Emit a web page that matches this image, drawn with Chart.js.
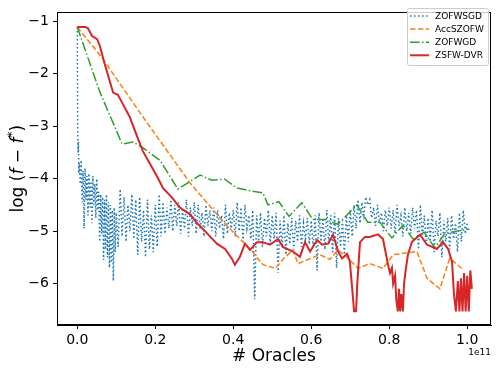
<!DOCTYPE html>
<html>
<head>
<meta charset="utf-8">
<script src="https://cdn.jsdelivr.net/npm/chart.js@4/dist/chart.umd.min.js"></script>
<style>
  html, body { margin: 0; padding: 0; background: #fff; }
  canvas { display: block; }
</style>
</head>
<body>
<canvas id="chart" width="497" height="372"></canvas>
<script>
// values (x in units of 1e11 oracles, y = log(f - f*))
var xTicks = [0.0, 0.2, 0.4, 0.6, 0.8, 1.0];
var yTicks = [-6, -5, -4, -3, -2, -1];
var seriesNames = ["ZOFWSGD", "AccSZOFW", "ZOFWGD", "ZSFW-DVR"];

var blueX = [0, 0.001, 0.002, 0.003, 0.004,
  0.005, 0.0075, 0.01, 0.0125, 0.015, 0.0175, 0.02, 0.0225, 0.025, 0.0275,
  0.03, 0.0325, 0.035, 0.0375, 0.04, 0.0425, 0.045, 0.0475, 0.05,
  0.0525, 0.055, 0.0575, 0.06, 0.0625, 0.065, 0.0675, 0.07, 0.0725, 0.075,
  0.0775, 0.08, 0.0825, 0.085, 0.0875, 0.09, 0.0925, 0.095, 0.0975, 0.1,
  0.105, 0.11, 0.115, 0.12, 0.125, 0.13, 0.135, 0.14, 0.145, 0.15,
  0.155, 0.16, 0.165, 0.17, 0.175, 0.18, 0.185, 0.19, 0.195, 0.2,
  0.205, 0.21, 0.215, 0.22, 0.225, 0.23, 0.235, 0.24, 0.245, 0.25,
  0.255, 0.26, 0.265, 0.27, 0.275, 0.28, 0.285, 0.29, 0.295, 0.3,
  0.305, 0.31, 0.315, 0.32, 0.325, 0.33, 0.335, 0.34, 0.345, 0.35,
  0.355, 0.36, 0.365, 0.37, 0.375, 0.38, 0.385, 0.39, 0.395, 0.4,
  0.405, 0.41, 0.415, 0.42, 0.425, 0.43, 0.435, 0.44, 0.445, 0.45,
  0.455, 0.46, 0.465, 0.47, 0.475, 0.48, 0.485, 0.49, 0.495, 0.5,
  0.505, 0.51, 0.515, 0.52, 0.525, 0.53, 0.535, 0.54, 0.545, 0.55,
  0.555, 0.56, 0.565, 0.57, 0.575, 0.58, 0.585, 0.59, 0.595, 0.6,
  0.605, 0.61, 0.615, 0.62, 0.625, 0.63, 0.635, 0.64, 0.645, 0.65,
  0.655, 0.66, 0.665, 0.67, 0.675, 0.68, 0.685, 0.69, 0.695, 0.7,
  0.705, 0.71, 0.715, 0.72, 0.725, 0.73, 0.735, 0.74, 0.745, 0.75,
  0.755, 0.76, 0.765, 0.77, 0.775, 0.78, 0.785, 0.79, 0.795, 0.8,
  0.805, 0.81, 0.815, 0.82, 0.825, 0.83, 0.835, 0.84, 0.845, 0.85,
  0.855, 0.86, 0.865, 0.87, 0.875, 0.88, 0.885, 0.89, 0.895, 0.9,
  0.905, 0.91, 0.915, 0.92, 0.925, 0.93, 0.935, 0.94, 0.945, 0.95,
  0.955, 0.96, 0.965, 0.97, 0.975, 0.98, 0.985, 0.99, 0.995, 1.0,
  1.005];
var blueY = [-1.11, -3.0, -3.5, -3.3, -3.9,
  -3.70, -4.10, -3.65, -4.45, -3.85, -4.95, -3.80, -4.40, -3.95, -4.70,
  -3.90, -4.55, -4.05, -4.85, -3.95, -4.50, -4.10, -4.75, -4.00,
  -4.60, -4.25, -5.20, -4.30, -5.05, -4.35, -5.55, -4.40, -5.35, -4.30,
  -5.50, -4.45, -5.70, -4.50, -5.60, -4.60, -5.95, -4.55, -5.40, -4.65,
  -5.30, -4.20, -5.10, -4.35, -5.20, -4.50, -5.00, -4.30, -5.15, -4.40,
  -5.45, -4.35, -5.20, -4.60, -5.50, -4.40, -5.35, -4.70, -5.40, -4.50,
  -5.30, -4.30, -5.10, -4.45, -5.05, -4.55, -4.95, -4.40, -5.00, -4.50,
  -4.90, -4.45, -5.05, -4.60, -4.95, -4.40, -5.10, -4.55, -4.90, -4.45,
  -5.05, -4.50, -4.95, -4.65, -5.10, -4.50, -4.90, -4.60, -5.00, -4.55,
  -5.10, -4.60, -4.95, -4.70, -5.15, -4.50, -5.05, -4.65, -4.95, -4.60,
  -5.10, -4.45, -5.00, -4.55, -5.20, -4.50, -4.95, -4.70, -5.15, -4.60,
  -6.30, -4.70, -5.20, -4.65, -5.30, -4.75, -5.10, -4.60, -5.25, -4.70,
  -5.15, -4.65, -5.80, -4.80, -5.30, -4.70, -5.45, -4.85, -5.25, -4.75,
  -5.35, -4.80, -5.20, -4.70, -5.30, -4.85, -5.15, -4.75, -5.25, -4.80,
  -5.30, -4.70, -5.75, -4.65, -5.20, -4.75, -5.35, -4.60, -5.25, -4.70,
  -5.40, -4.65, -5.70, -4.75, -5.30, -4.80, -5.45, -4.70, -5.20, -4.60,
  -5.10, -4.50, -4.95, -4.40, -4.85, -4.45, -4.70, -4.35, -4.50, -4.40,
  -4.75, -4.55, -4.90, -4.50, -4.85, -4.65, -5.00, -4.60, -4.90, -4.55,
  -4.95, -4.60, -5.05, -4.50, -4.90, -4.70, -5.10, -4.55, -5.00, -4.65,
  -5.05, -4.55, -4.95, -4.60, -5.35, -4.50, -5.10, -4.70, -5.25, -4.75,
  -5.20, -4.60, -5.40, -4.80, -5.10, -4.65, -5.50, -4.80, -5.20, -4.75,
  -5.35, -4.70, -5.15, -4.85, -5.40, -4.65, -5.20, -4.60, -5.05, -4.85];

var orangeX = [0, 0.065, 0.169, 0.289, 0.38, 0.443, 0.476, 0.508, 0.527, 0.553, 0.566,
  0.622, 0.648, 0.668, 0.691, 0.72, 0.75, 0.784, 0.81, 0.871, 0.897, 0.93, 0.955, 0.989];
var orangeY = [-1.11, -1.71, -2.83, -4.08, -4.87, -5.34, -5.64, -5.71, -5.54, -5.36, -5.62,
  -5.45, -5.54, -5.36, -5.49, -5.71, -5.62, -5.71, -5.45, -5.39, -5.90, -6.10, -5.52, -5.73];

var greenX = [0, 0.058, 0.115, 0.143, 0.168, 0.212, 0.258, 0.315, 0.345, 0.378, 0.41,
  0.443, 0.476, 0.489, 0.517, 0.543, 0.576, 0.604, 0.635, 0.668, 0.717, 0.745, 0.776,
  0.807, 0.835, 0.861, 0.889, 0.917, 0.943, 1.006];
var greenY = [-1.11, -2.35, -3.34, -3.30, -3.41, -3.65, -4.20, -3.93, -4.03, -4.01, -4.18,
  -4.23, -4.27, -4.50, -4.44, -4.72, -4.46, -4.78, -4.78, -4.87, -4.50, -4.83, -4.83,
  -5.13, -4.89, -5.15, -5.02, -5.32, -5.04, -4.96];

var redX = [0, 0.02, 0.027, 0.038, 0.051, 0.058, 0.068, 0.084, 0.092, 0.104, 0.115,
  0.127, 0.135, 0.148, 0.161, 0.168, 0.186, 0.204, 0.22, 0.243, 0.263, 0.289, 0.31,
  0.33, 0.358, 0.379, 0.396, 0.404, 0.417, 0.43, 0.443, 0.461, 0.476, 0.494, 0.515,
  0.527, 0.553, 0.571, 0.584, 0.597, 0.615, 0.628, 0.643, 0.656, 0.669, 0.679, 0.692,
  0.699, 0.704, 0.71, 0.715, 0.718, 0.725, 0.738, 0.75, 0.771, 0.784, 0.797, 0.802,
  0.807, 0.81, 0.815, 0.818, 0.822, 0.825, 0.828, 0.831, 0.835, 0.838, 0.843, 0.848,
  0.858, 0.879, 0.897, 0.91, 0.922, 0.938, 0.951, 0.961, 0.966, 0.971, 0.976, 0.98,
  0.984, 0.988, 0.992, 0.996, 1.0, 1.004, 1.008, 1.012];
var redY = [-1.11, -1.11, -1.13, -1.28, -1.34, -1.47, -1.75, -2.16, -2.36, -2.40, -2.55,
  -2.72, -2.83, -3.09, -3.34, -3.47, -3.71, -3.95, -4.18, -4.36, -4.55, -4.68, -4.87,
  -5.02, -5.24, -5.34, -5.52, -5.64, -5.49, -5.24, -5.36, -5.21, -5.21, -5.26, -5.15,
  -5.30, -5.39, -5.49, -5.21, -5.39, -5.17, -5.26, -5.24, -5.07, -5.39, -5.52, -5.43,
  -5.58, -6.01, -6.53, -6.53, -6.01, -5.21, -5.11, -5.11, -5.06, -5.15, -5.64, -5.80,
  -5.70, -6.00, -5.85, -6.30, -6.53, -6.10, -6.53, -6.20, -6.53, -6.00, -5.70, -5.45,
  -5.21, -5.07, -5.26, -5.30, -5.34, -5.21, -5.34, -5.58, -6.20, -6.53, -5.95, -6.53,
  -5.90, -6.53, -5.80, -6.53, -5.85, -6.53, -5.75, -6.10];

function pairs(xs, ys) {
  return xs.map(function(x, i) { return {x: x, y: ys[i]}; });
}

var FONT = "'DejaVu Sans', sans-serif";
var colors = ["#1f77b4", "#ff7f0e", "#2ca02c", "#d62728"];
var dashes = [[1.5, 2.5], [5.5, 2.4], [9.6, 2.4, 1.5, 2.4], []];
var widths = [1.5, 1.5, 1.5, 2];

var datasets = [pairs(blueX, blueY), pairs(orangeX, orangeY), pairs(greenX, greenY), pairs(redX, redY)]
  .map(function(d, i) {
    return {
      label: seriesNames[i],
      data: d,
      borderColor: colors[i],
      borderWidth: widths[i],
      borderDash: dashes[i],
      pointRadius: 0,
      tension: 0,
      fill: false,
      order: 3 - i   // red on top, like matplotlib draw order
    };
  });

// frame, legend, axis titles and offset text
var decorations = {
  id: 'decorations',
  afterDraw: function(chart) {
    var ctx = chart.ctx, a = chart.chartArea;
    ctx.save();

    ctx.strokeStyle = '#000';
    ctx.lineWidth = 1;
    ctx.strokeRect(Math.round(a.left) + 0.5, Math.round(a.top) + 0.5,
      Math.round(a.right - a.left) - 1, Math.round(a.bottom - a.top) - 1);

    // legend box
    var lx = 407.5, ly = 8.5, lw = 81, lh = 57;
    ctx.beginPath();
    ctx.roundRect(lx, ly, lw, lh, 2);
    ctx.fillStyle = 'rgba(255,255,255,0.8)';
    ctx.fill();
    ctx.strokeStyle = '#cccccc';
    ctx.stroke();
    ctx.font = '9px ' + FONT;
    ctx.textBaseline = 'middle';
    ctx.textAlign = 'left';
    for (var i = 0; i < seriesNames.length; i++) {
      var ry = 16 + i * 13.1;
      ctx.beginPath();
      ctx.setLineDash(dashes[i]);
      ctx.strokeStyle = colors[i];
      ctx.lineWidth = widths[i];
      ctx.moveTo(410, ry);
      ctx.lineTo(429, ry);
      ctx.stroke();
      ctx.setLineDash([]);
      ctx.fillStyle = '#000';
      ctx.fillText(seriesNames[i], 435, ry + 0.5);
    }

    // x title
    ctx.fillStyle = '#000';
    ctx.font = '17px ' + FONT;
    ctx.textAlign = 'center';
    ctx.textBaseline = 'alphabetic';
    ctx.fillText('# Oracles', (a.left + a.right) / 2, 361);

    // offset text
    ctx.font = '9px ' + FONT;
    ctx.textAlign = 'right';
    ctx.fillText('1e11', a.right, 355);

    // y title: log (f − f*), with italic f and superscript star
    var parts = [
      {t: 'log (', f: '17px ' + FONT, dy: 0},
      {t: 'f', f: 'italic 17px ' + FONT, dy: 0},
      {t: ' \u2212 ', f: '17px ' + FONT, dy: 0},
      {t: 'f', f: 'italic 17px ' + FONT, dy: 0},
      {t: '*', f: 'italic 12px ' + FONT, dy: -7},
      {t: ')', f: '17px ' + FONT, dy: 0}
    ];
    var total = 0;
    parts.forEach(function(p) { ctx.font = p.f; p.w = ctx.measureText(p.t).width; total += p.w; });
    ctx.translate(23, (a.top + a.bottom) / 2);
    ctx.rotate(-Math.PI / 2);
    ctx.textAlign = 'left';
    ctx.textBaseline = 'alphabetic';
    var px = -total / 2;
    parts.forEach(function(p) {
      ctx.font = p.f;
      ctx.fillText(p.t, px, p.dy);
      px += p.w;
    });
    ctx.restore();
  }
};

function minusSign(v) {
  return (v < 0 ? '\u2212' : '') + Math.abs(v);
}

new Chart(document.getElementById('chart'), {
  type: 'line',
  data: { datasets: datasets },
  options: {
    responsive: false,
    animation: false,
    layout: { padding: { left: 0, right: 6, top: 6, bottom: 0 } },
    plugins: { legend: { display: false }, tooltip: { enabled: false } },
    scales: {
      x: {
        type: 'linear',
        min: -0.052,
        max: 1.061,
        afterBuildTicks: function(s) { s.ticks = xTicks.map(function(v) { return {value: v}; }); },
        afterFit: function(s) { s.height = 47; },
        grid: { drawOnChartArea: false, color: '#000', tickLength: 4 },
        border: { color: '#000' },
        ticks: {
          color: '#000', autoSkip: false, maxRotation: 0, padding: 3,
          font: { family: FONT, size: 14 },
          callback: function(v) { return Number(v).toFixed(1); }
        }
      },
      y: {
        type: 'linear',
        min: -6.79,
        max: -0.83,
        afterBuildTicks: function(s) { s.ticks = yTicks.map(function(v) { return {value: v}; }); },
        afterFit: function(s) { s.width = 57; },
        grid: { drawOnChartArea: false, color: '#000', tickLength: 4 },
        border: { color: '#000' },
        ticks: {
          color: '#000', autoSkip: false, padding: 4,
          font: { family: FONT, size: 14 },
          callback: minusSign
        }
      }
    }
  },
  plugins: [decorations]
});
</script>
</body>
</html>
